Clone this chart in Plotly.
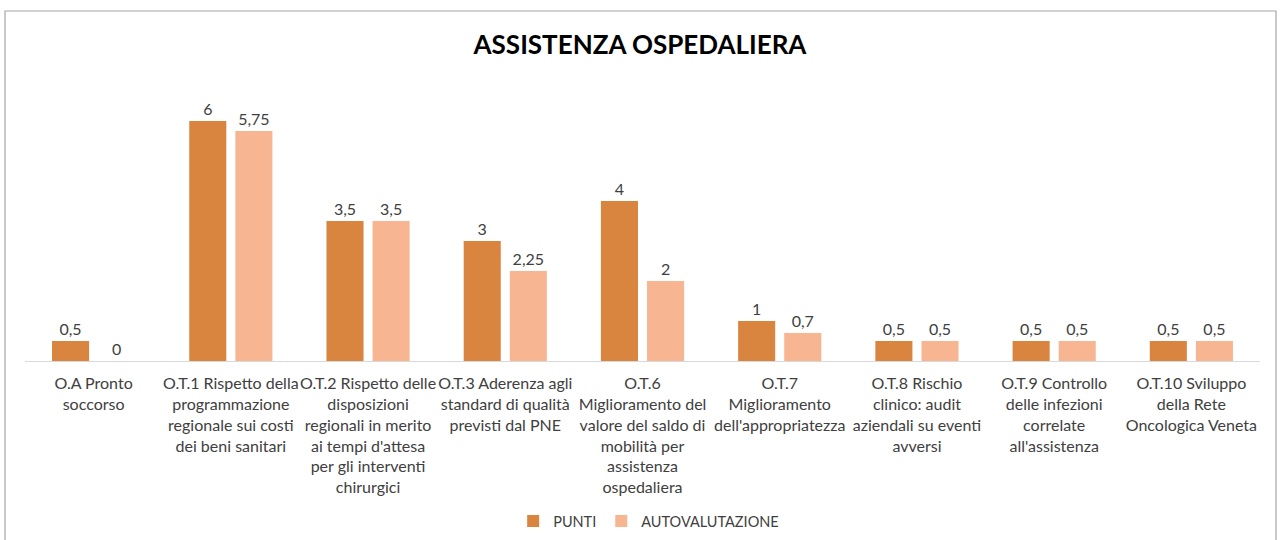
import plotly.graph_objects as go

categories = [
    "O.A Pronto<br>soccorso",
    "O.T.1 Rispetto della<br>programmazione<br>regionale sui costi<br>dei beni sanitari",
    "O.T.2 Rispetto delle<br>disposizioni<br>regionali in merito<br>ai tempi d'attesa<br>per gli interventi<br>chirurgici",
    "O.T.3 Aderenza agli<br>standard di qualità<br>previsti dal PNE",
    "O.T.6<br>Miglioramento del<br>valore del saldo di<br>mobilità per<br>assistenza<br>ospedaliera",
    "O.T.7<br>Miglioramento<br>dell'appropriatezza",
    "O.T.8 Rischio<br>clinico: audit<br>aziendali su eventi<br>avversi",
    "O.T.9 Controllo<br>delle infezioni<br>correlate<br>all'assistenza",
    "O.T.10 Sviluppo<br>della Rete<br>Oncologica Veneta",
]
punti = [0.5, 6, 3.5, 3, 4, 1, 0.5, 0.5, 0.5]
autovalutazione = [0, 5.75, 3.5, 2.25, 2, 0.7, 0.5, 0.5, 0.5]


def fmt(v):
    return ("%g" % v).replace(".", ",")


FONT = "Lato, Carlito, Calibri, sans-serif"
TXT = "#404040"

fig = go.Figure()
fig.add_trace(go.Bar(
    x=list(range(len(categories))), y=punti, name="PUNTI",
    marker=dict(color="#D9843F", line=dict(width=0)),
    text=[fmt(v) for v in punti], textposition="outside",
    textfont=dict(size=16, color=TXT, family=FONT), cliponaxis=False,
))
fig.add_trace(go.Bar(
    x=list(range(len(categories))), y=autovalutazione, name="AUTOVALUTAZIONE",
    marker=dict(color="#F8B592", line=dict(width=0)),
    text=[fmt(v) for v in autovalutazione], textposition="outside",
    textfont=dict(size=16, color=TXT, family=FONT), cliponaxis=False,
))

W, H = 1280, 540
L, R, T, B = 25, 20, 81, 179
pw, ph = W - L - R, H - T - B


def px_x(x):
    return (x - L) / pw


def px_y(y):
    return (H - B - y) / ph


fig.update_layout(
    width=W, height=H,
    margin=dict(l=L, r=R, t=T, b=B, autoexpand=False),
    paper_bgcolor="white", plot_bgcolor="white",
    font=dict(family=FONT, color=TXT, size=16),
    title=dict(text="<b>ASSISTENZA OSPEDALIERA</b>", x=0.5, xanchor="center",
               yref="container", y=1 - 45 / H, yanchor="middle",
               font=dict(size=26, color="#000000", family=FONT)),
    barmode="group", bargap=0.328, bargroupgap=0.196,
    showlegend=True,
    legend=dict(orientation="h", x=0.505, xanchor="center",
                yref="container", y=1 - 521 / H, yanchor="middle",
                font=dict(size=14.5, color=TXT, family=FONT),
                itemwidth=30, traceorder="normal"),
    xaxis=dict(
        tickmode="array", tickvals=list(range(len(categories))), ticktext=categories,
        range=[-0.5, len(categories) - 0.5],
        showline=True, linecolor="#D9D9D9", linewidth=1,
        ticks="", showgrid=False, zeroline=False, tickangle=0,
        ticklabelstandoff=8,
        tickfont=dict(size=16, color=TXT, family=FONT),
    ),
    yaxis=dict(range=[0, 7], visible=False, showgrid=False, zeroline=False),
    shapes=[dict(
        type="rect", xref="paper", yref="paper",
        x0=px_x(5), x1=px_x(1276), y0=px_y(11), y1=px_y(560),
        line=dict(color="#A6A6A6", width=1.2), fillcolor="rgba(0,0,0,0)", layer="below",
    )],
)

fig.write_html("out.html", config={"displayModeBar": False},
               post_script="document.body.style.margin='0';")
